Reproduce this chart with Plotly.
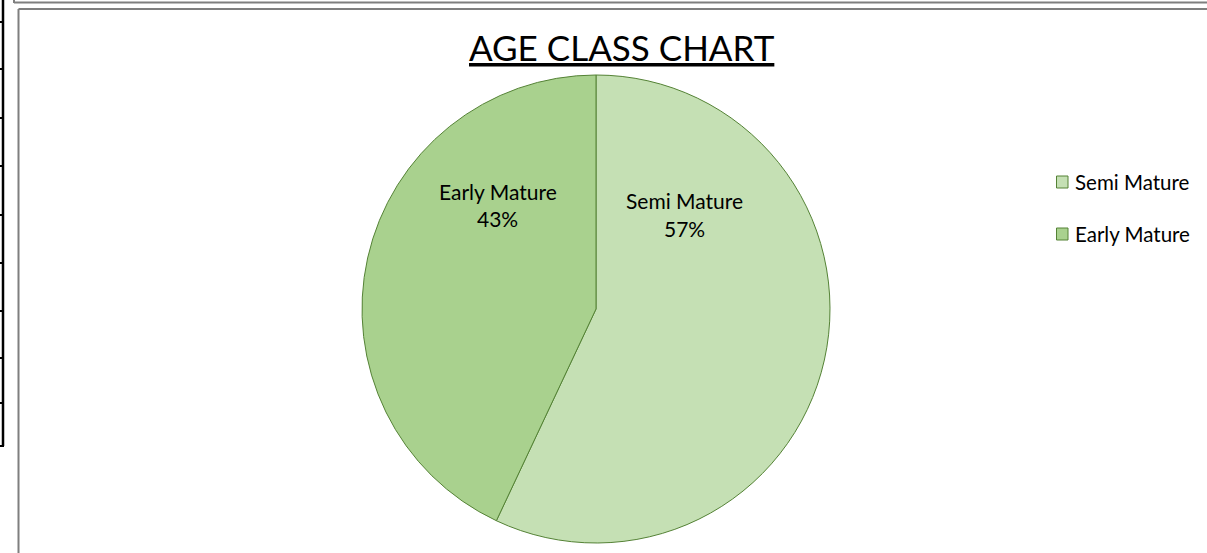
import plotly.graph_objects as go

labels = ["Semi Mature", "Early Mature"]
values = [57, 43]
colors = ["#C5E0B4", "#A9D18E"]
title_text = "AGE CLASS CHART"

W, H = 1207, 553

def px(x):
    return x / W

def py(y):
    return 1 - y / H

fig = go.Figure()
fig.add_trace(go.Pie(
    labels=labels, values=values, sort=False, direction="clockwise", rotation=0,
    marker=dict(colors=colors, line=dict(color="#548235", width=1)),
    textinfo="none", hoverinfo="label+percent", showlegend=False,
    domain=dict(x=[px(362), px(830)], y=[py(543), py(75)]),
))

shapes = []
# surrounding spreadsheet / frame lines
shapes.append(dict(type="line", xref="paper", yref="paper", x0=px(3), x1=px(3), y0=py(0), y1=py(446),
                   line=dict(color="black", width=2.5)))
for ty in [22, 69, 118, 166, 215, 263, 311, 358, 403, 446]:
    shapes.append(dict(type="line", xref="paper", yref="paper", x0=px(0), x1=px(4), y0=py(ty), y1=py(ty),
                       line=dict(color="black", width=2)))
shapes.append(dict(type="line", xref="paper", yref="paper", x0=px(14), x1=px(1207), y0=py(2.5), y1=py(2.5),
                   line=dict(color="#7f7f7f", width=2)))
shapes.append(dict(type="line", xref="paper", yref="paper", x0=px(14), x1=px(14), y0=py(0), y1=py(3),
                   line=dict(color="#7f7f7f", width=2)))
shapes.append(dict(type="line", xref="paper", yref="paper", x0=px(18.5), x1=px(1207), y0=py(9), y1=py(9),
                   line=dict(color="#7f7f7f", width=2)))
shapes.append(dict(type="line", xref="paper", yref="paper", x0=px(18.5), x1=px(18.5), y0=py(9), y1=py(553),
                   line=dict(color="#7f7f7f", width=2)))

annotations = []
total = sum(values)
# slice labels
label_pos = {"Semi Mature": (684, 200, 228), "Early Mature": (498, 191, 219)}
for lab, val in zip(labels, values):
    cx, y1, y2 = label_pos[lab]
    annotations.append(dict(x=px(cx), y=py(y1), xref="paper", yref="paper", text=lab, showarrow=False,
                            xanchor="center", yanchor="middle", font=dict(size=21, color="#000000")))
    annotations.append(dict(x=px(cx), y=py(y2), xref="paper", yref="paper",
                            text=f"{round(100 * val / total)}%", showarrow=False,
                            xanchor="center", yanchor="middle", font=dict(size=21, color="#000000")))

# legend (manual)
leg_y = [182, 234]
for lab, col, ly in zip(labels, colors, leg_y):
    shapes.append(dict(type="rect", xref="paper", yref="paper", x0=px(1056.5), x1=px(1068), y0=py(ly - 6),
                       y1=py(ly + 6), fillcolor=col, line=dict(color="#548235", width=1)))
    annotations.append(dict(x=px(1073), y=py(ly), xref="paper", yref="paper", text=lab, showarrow=False,
                            xanchor="left", yanchor="middle", font=dict(size=20.5, color="#000000")))

# title
annotations.append(dict(x=px(622), y=py(47), xref="paper", yref="paper", text=f"<u>{title_text}</u>",
                        showarrow=False, xanchor="center", yanchor="middle",
                        font=dict(size=35, color="#000000")))

fig.update_layout(
    width=W, height=H, margin=dict(l=0, r=0, t=0, b=0),
    paper_bgcolor="white", plot_bgcolor="white",
    font=dict(family="Lato, 'Open Sans', sans-serif"),
    shapes=shapes, annotations=annotations, showlegend=False,
)

fig.write_html("out.html", config={"displayModeBar": False},
               post_script="document.body.style.margin='0px';document.body.style.overflow='hidden';")
